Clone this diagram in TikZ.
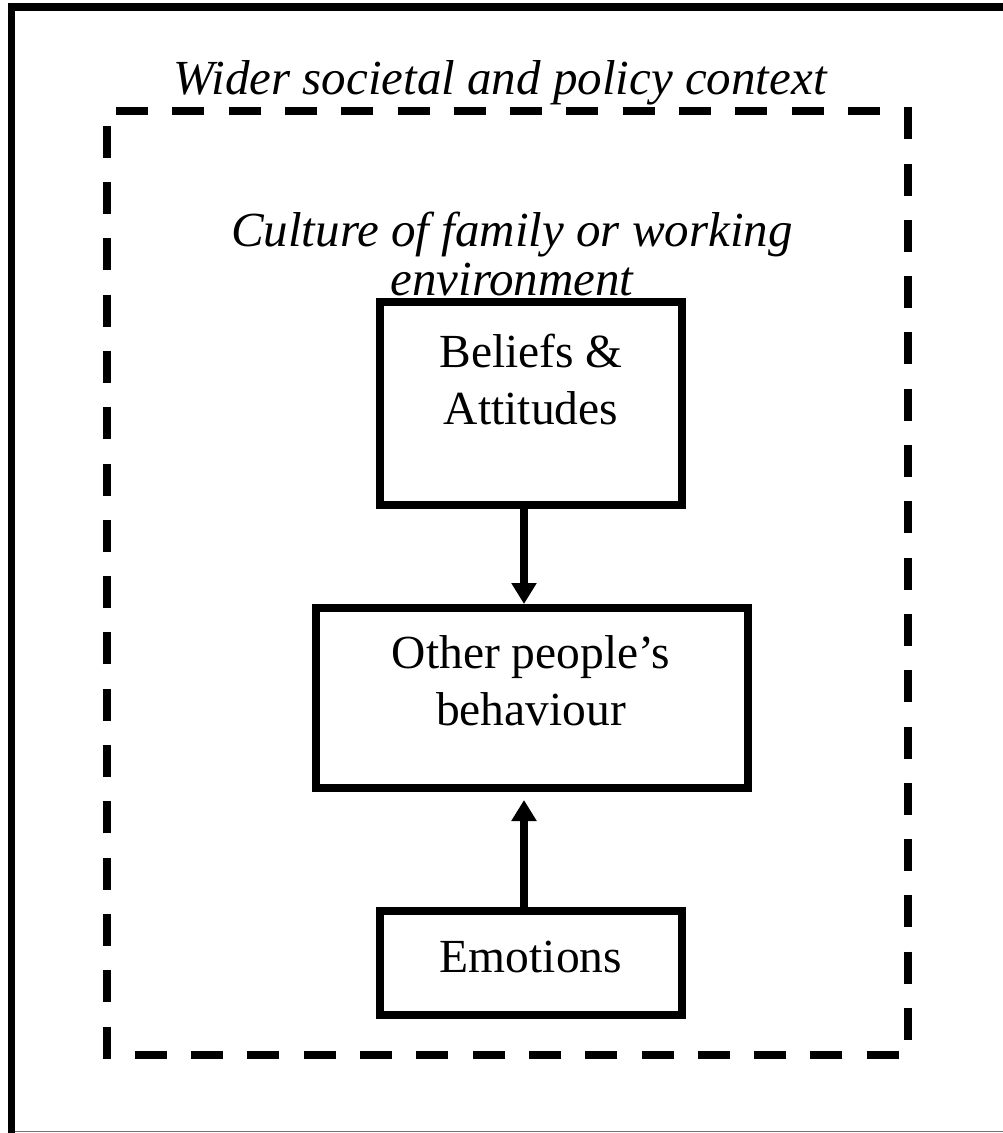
\documentclass[tikz,border=0pt]{standalone}
\usepackage{fontspec}
\setmainfont{Liberation Serif}
\usetikzlibrary{arrows.meta}
\begin{document}
\begin{tikzpicture}[x=1pt,y=-1pt,
  box/.style={draw, line width=8pt, rectangle, inner sep=0pt},
  lbl/.style={anchor=base, inner sep=0pt, font=\fontsize{47.5}{57}\selectfont},
  ctx/.style={anchor=base, inner sep=0pt, font=\fontsize{49}{57}\selectfont\itshape},
  flow/.style={line width=8pt, -{Triangle[length=21pt,width=24pt]}},
  context frame/.style={line width=8pt, dash pattern=on 32pt off 24.3pt, dash phase=47.3pt}]

  \useasboundingbox (0,0) rectangle (1003,1133);

  % outer border: heavy top and left edges, hairline bottom
  \draw[line width=7.5pt] (11.5,1133) -- (11.5,7) -- (1003,7);
  \draw[line width=1.5pt, black!55] (15,1131.5) -- (1003,1131.5);

  % dashed frame for the societal context
  \draw[context frame] (107,111) -- (908,111) -- (908,1055) -- (107,1055) -- cycle;

  % context labels
  \node[ctx] (wider) at (500,94) {Wider societal and policy context};
  \node[ctx] (cult1) at (512,246) {Culture of family or working};
  \node[ctx] (cult2) at (512,295) {environment};

  % boxes
  \node[box, minimum width=302pt, minimum height=203pt] (ba) at (531,403.5) {};
  \node[box, minimum width=432pt, minimum height=180pt] (op) at (532,698) {};
  \node[box, minimum width=302pt, minimum height=104pt] (em) at (531,963) {};

  % box texts
  \node[lbl] (ba1) at (531,367) {Beliefs \&};
  \node[lbl] (ba2) at (531,424) {Attitudes};
  \node[lbl] (op1) at (531,668) {Other people’s};
  \node[lbl] (op2) at (531,725) {behaviour};
  \node[lbl] (em1) at (531,972) {Emotions};

  % connectors
  \coordinate (ax) at (524,0);
  \draw[flow] (ba.south -| ax) -- (op.north -| ax);
  \draw[flow, shorten >=8pt] (em.north -| ax) -- (op.south -| ax);
\end{tikzpicture}
\end{document}
